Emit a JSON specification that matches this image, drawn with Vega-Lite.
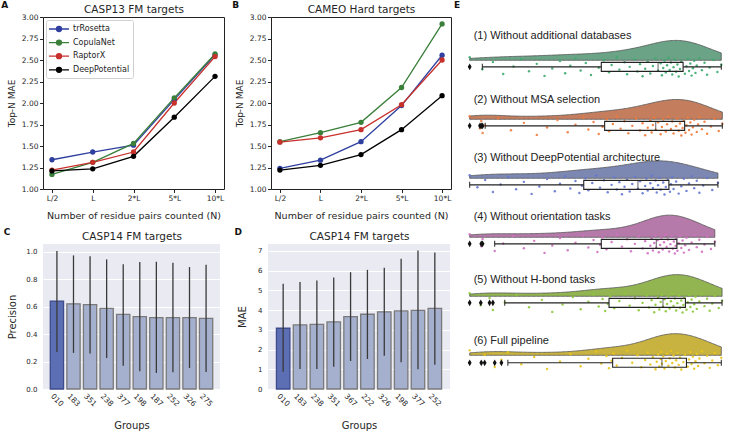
{
  "$schema": "https://vega.github.io/schema/vega-lite/v6.json",
  "background": "white",
  "padding": {"left": 0, "top": 0, "right": 0, "bottom": 0},
  "config": {
    "font": "DejaVu Sans",
    "view": {"stroke": "#222222", "strokeWidth": 1},
    "axis": {"labelColor": "#262626", "titleColor": "#262626", "titleFontWeight": "normal", "tickColor": "#262626", "domainColor": "#262626", "labelFont": "DejaVu Sans", "titleFont": "DejaVu Sans", "labelOverlap": false},
    "title": {"font": "DejaVu Sans", "fontWeight": "bold", "fontSize": 9, "color": "#111111", "anchor": "start", "frame": "bounds", "baseline": "alphabetic"}
  },
  "datasets": {
    "lines": [
      {"panel": "A", "method": "trRosetta", "n": "L/2", "mae": 1.34},
      {"panel": "A", "method": "trRosetta", "n": "L", "mae": 1.43},
      {"panel": "A", "method": "trRosetta", "n": "2*L", "mae": 1.51},
      {"panel": "A", "method": "trRosetta", "n": "5*L", "mae": 2.04},
      {"panel": "A", "method": "trRosetta", "n": "10*L", "mae": 2.56},
      {"panel": "A", "method": "CopulaNet", "n": "L/2", "mae": 1.17},
      {"panel": "A", "method": "CopulaNet", "n": "L", "mae": 1.31},
      {"panel": "A", "method": "CopulaNet", "n": "2*L", "mae": 1.53},
      {"panel": "A", "method": "CopulaNet", "n": "5*L", "mae": 2.06},
      {"panel": "A", "method": "CopulaNet", "n": "10*L", "mae": 2.57},
      {"panel": "A", "method": "RaptorX", "n": "L/2", "mae": 1.22},
      {"panel": "A", "method": "RaptorX", "n": "L", "mae": 1.31},
      {"panel": "A", "method": "RaptorX", "n": "2*L", "mae": 1.43},
      {"panel": "A", "method": "RaptorX", "n": "5*L", "mae": 2.0},
      {"panel": "A", "method": "RaptorX", "n": "10*L", "mae": 2.54},
      {"panel": "A", "method": "DeepPotential", "n": "L/2", "mae": 1.21},
      {"panel": "A", "method": "DeepPotential", "n": "L", "mae": 1.235},
      {"panel": "A", "method": "DeepPotential", "n": "2*L", "mae": 1.38},
      {"panel": "A", "method": "DeepPotential", "n": "5*L", "mae": 1.835},
      {"panel": "A", "method": "DeepPotential", "n": "10*L", "mae": 2.31},
      {"panel": "B", "method": "trRosetta", "n": "L/2", "mae": 1.24},
      {"panel": "B", "method": "trRosetta", "n": "L", "mae": 1.335},
      {"panel": "B", "method": "trRosetta", "n": "2*L", "mae": 1.55},
      {"panel": "B", "method": "trRosetta", "n": "5*L", "mae": 1.97},
      {"panel": "B", "method": "trRosetta", "n": "10*L", "mae": 2.555},
      {"panel": "B", "method": "CopulaNet", "n": "L/2", "mae": 1.55},
      {"panel": "B", "method": "CopulaNet", "n": "L", "mae": 1.655},
      {"panel": "B", "method": "CopulaNet", "n": "2*L", "mae": 1.775},
      {"panel": "B", "method": "CopulaNet", "n": "5*L", "mae": 2.18},
      {"panel": "B", "method": "CopulaNet", "n": "10*L", "mae": 2.92},
      {"panel": "B", "method": "RaptorX", "n": "L/2", "mae": 1.545},
      {"panel": "B", "method": "RaptorX", "n": "L", "mae": 1.595},
      {"panel": "B", "method": "RaptorX", "n": "2*L", "mae": 1.69},
      {"panel": "B", "method": "RaptorX", "n": "5*L", "mae": 1.98},
      {"panel": "B", "method": "RaptorX", "n": "10*L", "mae": 2.5},
      {"panel": "B", "method": "DeepPotential", "n": "L/2", "mae": 1.22},
      {"panel": "B", "method": "DeepPotential", "n": "L", "mae": 1.275},
      {"panel": "B", "method": "DeepPotential", "n": "2*L", "mae": 1.4},
      {"panel": "B", "method": "DeepPotential", "n": "5*L", "mae": 1.69},
      {"panel": "B", "method": "DeepPotential", "n": "10*L", "mae": 2.085}
    ],
    "bars": [
      {"panel": "C", "group": "010", "v": 0.64, "lo": 0.27, "hi": 1.005},
      {"panel": "C", "group": "183", "v": 0.62, "lo": 0.263, "hi": 0.973},
      {"panel": "C", "group": "351", "v": 0.615, "lo": 0.258, "hi": 0.966},
      {"panel": "C", "group": "238", "v": 0.587, "lo": 0.226, "hi": 0.944},
      {"panel": "C", "group": "377", "v": 0.543, "lo": 0.17, "hi": 0.908},
      {"panel": "C", "group": "198", "v": 0.527, "lo": 0.129, "hi": 0.925},
      {"panel": "C", "group": "187", "v": 0.52, "lo": 0.117, "hi": 0.927},
      {"panel": "C", "group": "252", "v": 0.52, "lo": 0.122, "hi": 0.92},
      {"panel": "C", "group": "326", "v": 0.52, "lo": 0.153, "hi": 0.888},
      {"panel": "C", "group": "275", "v": 0.515, "lo": 0.124, "hi": 0.905},
      {"panel": "D", "group": "010", "v": 3.08, "lo": 0.88, "hi": 5.33},
      {"panel": "D", "group": "183", "v": 3.25, "lo": 1.01, "hi": 5.43},
      {"panel": "D", "group": "238", "v": 3.28, "lo": 1.01, "hi": 5.5},
      {"panel": "D", "group": "351", "v": 3.4, "lo": 1.13, "hi": 5.65},
      {"panel": "D", "group": "367", "v": 3.67, "lo": 1.42, "hi": 5.92},
      {"panel": "D", "group": "222", "v": 3.79, "lo": 1.52, "hi": 6.04},
      {"panel": "D", "group": "326", "v": 3.91, "lo": 1.69, "hi": 6.15},
      {"panel": "D", "group": "198", "v": 3.96, "lo": 1.35, "hi": 6.6},
      {"panel": "D", "group": "377", "v": 3.99, "lo": 1.0, "hi": 7.02},
      {"panel": "D", "group": "252", "v": 4.09, "lo": 1.23, "hi": 6.92}
    ],
    "labels": [
      {"c": 1, "label": "(1) Without additional databases"},
      {"c": 2, "label": "(2) Without MSA selection"},
      {"c": 3, "label": "(3) Without DeepPotential architecture"},
      {"c": 4, "label": "(4) Without orientation tasks"},
      {"c": 5, "label": "(5) Without H-bond tasks"},
      {"c": 6, "label": "(6) Full pipeline"}
    ],
    "rain": [
      {"c":1,"p":0.0},{"c":1,"p":0.57},{"c":1,"p":0.77},{"c":1,"p":0.89},{"c":1,"p":0.41},{"c":1,"p":0.72},{"c":1,"p":0.845},{"c":1,"p":0.2},{"c":1,"p":0.64},{"c":1,"p":0.795},
      {"c":1,"p":0.945},{"c":1,"p":0.52},{"c":1,"p":0.755},{"c":1,"p":0.87},{"c":1,"p":0.35},{"c":1,"p":0.69},{"c":1,"p":0.82},{"c":1,"p":0.09},{"c":1,"p":0.6},{"c":1,"p":0.78},
      {"c":1,"p":0.91},{"c":1,"p":0.45},{"c":1,"p":0.74},{"c":1,"p":0.855},{"c":1,"p":0.26},{"c":1,"p":0.66},{"c":1,"p":0.805},{"c":1,"p":0.975},{"c":1,"p":0.55},{"c":1,"p":0.765},
      {"c":1,"p":0.88},{"c":1,"p":0.39},{"c":1,"p":0.71},{"c":1,"p":0.84},{"c":1,"p":0.17},{"c":1,"p":0.62},{"c":1,"p":0.79},{"c":1,"p":0.93},{"c":1,"p":0.5},{"c":1,"p":0.75},
      {"c":1,"p":0.865},{"c":1,"p":0.32},{"c":1,"p":0.68},{"c":1,"p":0.815},{"c":1,"p":0.049},{"c":1,"p":0.58},{"c":1,"p":0.775},{"c":1,"p":0.9},{"c":1,"p":0.43},{"c":1,"p":0.73},
      {"c":1,"p":0.85},{"c":1,"p":0.23},{"c":1,"p":0.65},{"c":1,"p":0.8},{"c":1,"p":0.96},{"c":1,"p":0.54},{"c":1,"p":0.76},{"c":1,"p":0.875},{"c":1,"p":0.37},{"c":1,"p":0.7},
      {"c":1,"p":0.834},{"c":1,"p":0.13},{"c":1,"p":0.61},{"c":1,"p":0.785},{"c":1,"p":0.92},{"c":1,"p":0.47},{"c":1,"p":0.745},{"c":1,"p":0.86},{"c":1,"p":0.29},{"c":1,"p":0.67},
      {"c":1,"p":0.81},
      {"c":2,"p":0.0},{"c":2,"p":0.57},{"c":2,"p":0.77},{"c":2,"p":0.89},{"c":2,"p":0.44},{"c":2,"p":0.715},{"c":2,"p":0.845},{"c":2,"p":0.11},{"c":2,"p":0.645},{"c":2,"p":0.805},
      {"c":2,"p":0.95},{"c":2,"p":0.531},{"c":2,"p":0.75},{"c":2,"p":0.87},{"c":2,"p":0.34},{"c":2,"p":0.7},{"c":2,"p":0.83},{"c":2,"p":0.045},{"c":2,"p":0.6},{"c":2,"p":0.785},
      {"c":2,"p":0.91},{"c":2,"p":0.48},{"c":2,"p":0.73},{"c":2,"p":0.855},{"c":2,"p":0.21},{"c":2,"p":0.67},{"c":2,"p":0.815},{"c":2,"p":0.979},{"c":2,"p":0.555},{"c":2,"p":0.765},
      {"c":2,"p":0.885},{"c":2,"p":0.41},{"c":2,"p":0.71},{"c":2,"p":0.84},{"c":2,"p":0.06},{"c":2,"p":0.63},{"c":2,"p":0.8},{"c":2,"p":0.935},{"c":2,"p":0.515},{"c":2,"p":0.745},
      {"c":2,"p":0.865},{"c":2,"p":0.3},{"c":2,"p":0.69},{"c":2,"p":0.825},{"c":2,"p":0.04},{"c":2,"p":0.585},{"c":2,"p":0.78},{"c":2,"p":0.9},{"c":2,"p":0.46},{"c":2,"p":0.721},
      {"c":2,"p":0.85},{"c":2,"p":0.16},{"c":2,"p":0.66},{"c":2,"p":0.81},{"c":2,"p":0.965},{"c":2,"p":0.54},{"c":2,"p":0.76},{"c":2,"p":0.88},{"c":2,"p":0.38},{"c":2,"p":0.705},
      {"c":2,"p":0.836},{"c":2,"p":0.05},{"c":2,"p":0.615},{"c":2,"p":0.79},{"c":2,"p":0.92},{"c":2,"p":0.5},{"c":2,"p":0.74},{"c":2,"p":0.86},{"c":2,"p":0.26},{"c":2,"p":0.68},
      {"c":2,"p":0.82},
      {"c":3,"p":0.0},{"c":3,"p":0.49},{"c":3,"p":0.705},{"c":3,"p":0.86},{"c":3,"p":0.37},{"c":3,"p":0.64},{"c":3,"p":0.785},{"c":3,"p":0.15},{"c":3,"p":0.56},{"c":3,"p":0.735},
      {"c":3,"p":0.92},{"c":3,"p":0.449},{"c":3,"p":0.685},{"c":3,"p":0.83},{"c":3,"p":0.3},{"c":3,"p":0.61},{"c":3,"p":0.768},{"c":3,"p":0.06},{"c":3,"p":0.52},{"c":3,"p":0.72},
      {"c":3,"p":0.88},{"c":3,"p":0.41},{"c":3,"p":0.66},{"c":3,"p":0.8},{"c":3,"p":0.21},{"c":3,"p":0.58},{"c":3,"p":0.75},{"c":3,"p":0.962},{"c":3,"p":0.475},{"c":3,"p":0.7},
      {"c":3,"p":0.85},{"c":3,"p":0.35},{"c":3,"p":0.63},{"c":3,"p":0.78},{"c":3,"p":0.12},{"c":3,"p":0.55},{"c":3,"p":0.73},{"c":3,"p":0.905},{"c":3,"p":0.435},{"c":3,"p":0.68},
      {"c":3,"p":0.82},{"c":3,"p":0.27},{"c":3,"p":0.6},{"c":3,"p":0.76},{"c":3,"p":0.03},{"c":3,"p":0.505},{"c":3,"p":0.71},{"c":3,"p":0.87},{"c":3,"p":0.39},{"c":3,"p":0.652},
      {"c":3,"p":0.79},{"c":3,"p":0.18},{"c":3,"p":0.57},{"c":3,"p":0.74},{"c":3,"p":0.94},{"c":3,"p":0.46},{"c":3,"p":0.69},{"c":3,"p":0.84},{"c":3,"p":0.33},{"c":3,"p":0.62},
      {"c":3,"p":0.776},{"c":3,"p":0.09},{"c":3,"p":0.535},{"c":3,"p":0.725},{"c":3,"p":0.89},{"c":3,"p":0.425},{"c":3,"p":0.67},{"c":3,"p":0.81},{"c":3,"p":0.24},{"c":3,"p":0.59},
      {"c":3,"p":0.755},
      {"c":4,"p":0.0},{"c":4,"p":0.57},{"c":4,"p":0.758},{"c":4,"p":0.87},{"c":4,"p":0.44},{"c":4,"p":0.72},{"c":4,"p":0.815},{"c":4,"p":0.17},{"c":4,"p":0.655},{"c":4,"p":0.783},
      {"c":4,"p":0.92},{"c":4,"p":0.515},{"c":4,"p":0.743},{"c":4,"p":0.84},{"c":4,"p":0.35},{"c":4,"p":0.705},{"c":4,"p":0.801},{"c":4,"p":0.05},{"c":4,"p":0.61},{"c":4,"p":0.768},
      {"c":4,"p":0.89},{"c":4,"p":0.48},{"c":4,"p":0.728},{"c":4,"p":0.825},{"c":4,"p":0.25},{"c":4,"p":0.68},{"c":4,"p":0.791},{"c":4,"p":0.95},{"c":4,"p":0.55},{"c":4,"p":0.753},
      {"c":4,"p":0.86},{"c":4,"p":0.41},{"c":4,"p":0.715},{"c":4,"p":0.81},{"c":4,"p":0.13},{"c":4,"p":0.64},{"c":4,"p":0.778},{"c":4,"p":0.91},{"c":4,"p":0.505},{"c":4,"p":0.738},
      {"c":4,"p":0.835},{"c":4,"p":0.32},{"c":4,"p":0.7},{"c":4,"p":0.798},{"c":4,"p":0.045},{"c":4,"p":0.59},{"c":4,"p":0.763},{"c":4,"p":0.88},{"c":4,"p":0.46},{"c":4,"p":0.723},
      {"c":4,"p":0.82},{"c":4,"p":0.21},{"c":4,"p":0.67},{"c":4,"p":0.787},{"c":4,"p":0.935},{"c":4,"p":0.53},{"c":4,"p":0.748},{"c":4,"p":0.85},{"c":4,"p":0.38},{"c":4,"p":0.71},
      {"c":4,"p":0.805},{"c":4,"p":0.097},{"c":4,"p":0.625},{"c":4,"p":0.773},{"c":4,"p":0.9},{"c":4,"p":0.495},{"c":4,"p":0.733},{"c":4,"p":0.83},{"c":4,"p":0.29},{"c":4,"p":0.69},
      {"c":4,"p":0.795},
      {"c":5,"p":0.0},{"c":5,"p":0.6},{"c":5,"p":0.785},{"c":5,"p":0.9},{"c":5,"p":0.48},{"c":5,"p":0.745},{"c":5,"p":0.85},{"c":5,"p":0.18},{"c":5,"p":0.685},{"c":5,"p":0.81},
      {"c":5,"p":0.95},{"c":5,"p":0.545},{"c":5,"p":0.77},{"c":5,"p":0.875},{"c":5,"p":0.4},{"c":5,"p":0.73},{"c":5,"p":0.832},{"c":5,"p":0.077},{"c":5,"p":0.64},{"c":5,"p":0.795},
      {"c":5,"p":0.92},{"c":5,"p":0.515},{"c":5,"p":0.755},{"c":5,"p":0.86},{"c":5,"p":0.28},{"c":5,"p":0.705},{"c":5,"p":0.82},{"c":5,"p":0.978},{"c":5,"p":0.58},{"c":5,"p":0.78},
      {"c":5,"p":0.89},{"c":5,"p":0.46},{"c":5,"p":0.74},{"c":5,"p":0.845},{"c":5,"p":0.136},{"c":5,"p":0.67},{"c":5,"p":0.805},{"c":5,"p":0.94},{"c":5,"p":0.535},{"c":5,"p":0.765},
      {"c":5,"p":0.87},{"c":5,"p":0.36},{"c":5,"p":0.72},{"c":5,"p":0.828},{"c":5,"p":0.043},{"c":5,"p":0.62},{"c":5,"p":0.79},{"c":5,"p":0.91},{"c":5,"p":0.5},{"c":5,"p":0.749},
      {"c":5,"p":0.855},{"c":5,"p":0.23},{"c":5,"p":0.695},{"c":5,"p":0.815},{"c":5,"p":0.965},{"c":5,"p":0.56},{"c":5,"p":0.775},{"c":5,"p":0.88},{"c":5,"p":0.43},{"c":5,"p":0.735},
      {"c":5,"p":0.84},{"c":5,"p":0.09},{"c":5,"p":0.655},{"c":5,"p":0.8},{"c":5,"p":0.93},{"c":5,"p":0.525},{"c":5,"p":0.76},{"c":5,"p":0.865},{"c":5,"p":0.32},{"c":5,"p":0.715},
      {"c":5,"p":0.825},
      {"c":6,"p":0.0},{"c":6,"p":0.61},{"c":6,"p":0.78},{"c":6,"p":0.9},{"c":6,"p":0.49},{"c":6,"p":0.742},{"c":6,"p":0.855},{"c":6,"p":0.148},{"c":6,"p":0.69},{"c":6,"p":0.805},
      {"c":6,"p":0.95},{"c":6,"p":0.558},{"c":6,"p":0.765},{"c":6,"p":0.88},{"c":6,"p":0.39},{"c":6,"p":0.73},{"c":6,"p":0.835},{"c":6,"p":0.058},{"c":6,"p":0.65},{"c":6,"p":0.79},
      {"c":6,"p":0.92},{"c":6,"p":0.53},{"c":6,"p":0.75},{"c":6,"p":0.865},{"c":6,"p":0.25},{"c":6,"p":0.71},{"c":6,"p":0.815},{"c":6,"p":0.975},{"c":6,"p":0.59},{"c":6,"p":0.775},
      {"c":6,"p":0.89},{"c":6,"p":0.46},{"c":6,"p":0.74},{"c":6,"p":0.85},{"c":6,"p":0.123},{"c":6,"p":0.68},{"c":6,"p":0.8},{"c":6,"p":0.94},{"c":6,"p":0.55},{"c":6,"p":0.76},
      {"c":6,"p":0.875},{"c":6,"p":0.35},{"c":6,"p":0.725},{"c":6,"p":0.828},{"c":6,"p":0.045},{"c":6,"p":0.63},{"c":6,"p":0.785},{"c":6,"p":0.91},{"c":6,"p":0.51},{"c":6,"p":0.745},
      {"c":6,"p":0.86},{"c":6,"p":0.2},{"c":6,"p":0.7},{"c":6,"p":0.81},{"c":6,"p":0.962},{"c":6,"p":0.57},{"c":6,"p":0.77},{"c":6,"p":0.885},{"c":6,"p":0.43},{"c":6,"p":0.735},
      {"c":6,"p":0.845},{"c":6,"p":0.097},{"c":6,"p":0.665},{"c":6,"p":0.795},{"c":6,"p":0.93},{"c":6,"p":0.54},{"c":6,"p":0.755},{"c":6,"p":0.87},{"c":6,"p":0.3},{"c":6,"p":0.72},
      {"c":6,"p":0.82}
    ]
  },
  "concat": [
    {
      "vconcat": [
        {
          "hconcat": [
            {
              "width": 181, "height": 172,
              "title": {"text": "A", "offset": -6, "dx": -6},
              "data": {"name": "lines"},
              "transform": [{"filter": "datum.panel == 'A'"}],
              "encoding": {
                "y": {"field": "mae", "type": "quantitative", "scale": {"domain": [1, 3], "nice": false, "zero": false},
                  "axis": {"title": "Top-N MAE", "values": [1, 1.25, 1.5, 1.75, 2, 2.25, 2.5, 2.75, 3], "format": ".2f", "labelOverlap": false, "grid": false, "domain": false, "tickSize": 3.5, "labelFontSize": 7.5, "labelPadding": 1.5, "titleFontSize": 9, "titlePadding": 5}},
                "color": {"field": "method", "type": "nominal",
                  "scale": {"domain": ["trRosetta", "CopulaNet", "RaptorX", "DeepPotential"], "range": ["#2F3F9F", "#3A7F3A", "#C8302C", "#000000"]},
                  "legend": {"title": null, "orient": "top-left", "offset": 3, "padding": 3, "strokeColor": "#d0d0d0", "fillColor": "white", "cornerRadius": 2, "labelFontSize": 8, "labelColor": "#222222", "symbolType": "M-2,0L2,0M0.5,0A0.5,0.5,0,1,1,-0.5,0A0.5,0.5,0,1,1,0.5,0Z", "symbolSize": 100, "symbolStrokeWidth": 1.3, "symbolOffset": 4, "rowPadding": 1.6, "labelOffset": 8, "symbolOpacity": 1}}
              },
              "layer": [
                {
                  "mark": {"type": "line", "strokeWidth": 1.3},
                  "encoding": {
                    "x": {"field": "n", "type": "ordinal", "sort": ["L/2", "L", "2*L", "5*L", "10*L"], "scale": {"type": "point", "padding": 0.22},
                      "axis": {"orient": "bottom", "title": "Number of residue pairs counted (N)", "labelAngle": 0, "labelOverlap": false, "tickSize": 3.5, "labelFontSize": 7.5, "labelPadding": 1.5, "titleFontSize": 9.5, "titlePadding": 9, "domain": false, "grid": false}},
                    "order": {"value": null}
                  }
                },
                {
                  "mark": {"type": "circle", "size": 28, "opacity": 1},
                  "encoding": {
                    "x": {"field": "n", "type": "ordinal", "sort": ["L/2", "L", "2*L", "5*L", "10*L"],
                      "axis": {"orient": "top", "title": "CASP13 FM targets", "labels": false, "ticks": false, "domain": false, "grid": false, "titleFontSize": 10.5, "titlePadding": 3}}
                  }
                }
              ],
              "resolve": {"axis": {"x": "independent"}}
            },
            {
              "width": 180, "height": 172,
              "title": {"text": "B", "offset": -6, "dx": -3},
              "data": {"name": "lines"},
              "transform": [{"filter": "datum.panel == 'B'"}],
              "encoding": {
                "y": {"field": "mae", "type": "quantitative", "scale": {"domain": [1, 3], "nice": false, "zero": false},
                  "axis": {"title": "Top-N MAE", "values": [1, 1.25, 1.5, 1.75, 2, 2.25, 2.5, 2.75, 3], "format": ".2f", "labelOverlap": false, "grid": false, "domain": false, "tickSize": 3.5, "labelFontSize": 7.5, "labelPadding": 1.5, "titleFontSize": 9, "titlePadding": 5}},
                "color": {"field": "method", "type": "nominal",
                  "scale": {"domain": ["trRosetta", "CopulaNet", "RaptorX", "DeepPotential"], "range": ["#2F3F9F", "#3A7F3A", "#C8302C", "#000000"]},
                  "legend": null}
              },
              "layer": [
                {
                  "mark": {"type": "line", "strokeWidth": 1.3},
                  "encoding": {
                    "x": {"field": "n", "type": "ordinal", "sort": ["L/2", "L", "2*L", "5*L", "10*L"], "scale": {"type": "point", "padding": 0.22},
                      "axis": {"orient": "bottom", "title": "Number of residue pairs counted (N)", "labelAngle": 0, "labelOverlap": false, "tickSize": 3.5, "labelFontSize": 7.5, "labelPadding": 1.5, "titleFontSize": 9.5, "titlePadding": 9, "domain": false, "grid": false}},
                    "order": {"value": null}
                  }
                },
                {
                  "mark": {"type": "circle", "size": 28, "opacity": 1},
                  "encoding": {
                    "x": {"field": "n", "type": "ordinal", "sort": ["L/2", "L", "2*L", "5*L", "10*L"],
                      "axis": {"orient": "top", "title": "CAMEO Hard targets", "labels": false, "ticks": false, "domain": false, "grid": false, "titleFontSize": 10.5, "titlePadding": 3}}
                  }
                }
              ],
              "resolve": {"axis": {"x": "independent"}}
            }
          ],
          "spacing": 6,
          "resolve": {"scale": {"color": "independent"}, "legend": {"color": "independent"}}
        },
        {
          "hconcat": [
            {
              "width": 177, "height": 145,
              "title": {"text": "C", "offset": -6, "dx": -4},
              "view": {"fill": "#EAEAF2", "stroke": null},
              "data": {"name": "bars"},
              "transform": [{"filter": "datum.panel == 'C'"}],
              "layer": [
                {
                  "mark": {"type": "bar", "strokeWidth": 1.3},
                  "encoding": {
                    "x": {"field": "group", "type": "nominal", "sort": null, "scale": {"paddingInner": 0.2, "paddingOuter": 0.44},
                      "axis": {"orient": "bottom", "title": "Groups", "labelAngle": 45, "labelAlign": "center", "labelBaseline": "middle", "labelOverlap": false, "ticks": false, "tickSize": 0, "domain": false, "grid": false, "labelPadding": 11, "labelFontSize": 7.5, "titleFontSize": 10, "titlePadding": 13}},
                    "y": {"field": "v", "type": "quantitative", "scale": {"domain": [0, 1.056], "nice": false},
                      "axis": {"title": "Precision", "values": [0, 0.2, 0.4, 0.6, 0.8, 1.0], "format": ".1f", "labelOverlap": false, "ticks": false, "tickSize": 0, "domain": false, "grid": true, "gridColor": "white", "gridWidth": 1, "labelPadding": 6, "labelFontSize": 7, "titleFontSize": 10, "titlePadding": 8}},
                    "color": {"condition": {"test": "datum.group === '010'", "value": "#5C6EB4"}, "value": "#A5B0CF"},
                    "stroke": {"condition": {"test": "datum.group === '010'", "value": "#3E4C8C"}, "value": "#7A7A7A"}
                  }
                },
                {
                  "mark": {"type": "rule", "color": "#3A3A3A", "strokeWidth": 1.3},
                  "encoding": {
                    "x": {"field": "group", "type": "nominal", "sort": null,
                      "axis": {"orient": "top", "title": "CASP14 FM targets", "labels": false, "ticks": false, "domain": false, "grid": false, "titleFontSize": 10.5, "titlePadding": 3}},
                    "y": {"field": "lo", "type": "quantitative",
                      "axis": {"title": "Precision", "values": [0, 0.2, 0.4, 0.6, 0.8, 1.0], "format": ".1f", "labelOverlap": false, "ticks": false, "tickSize": 0, "domain": false, "grid": true, "gridColor": "white", "gridWidth": 1, "labelPadding": 6, "labelFontSize": 7, "titleFontSize": 10, "titlePadding": 8}},
                    "y2": {"field": "hi"}
                  }
                }
              ],
              "resolve": {"axis": {"x": "independent"}}
            },
            {
              "width": 182, "height": 145,
              "title": {"text": "D", "offset": -6, "dx": -3},
              "view": {"fill": "#EAEAF2", "stroke": null},
              "data": {"name": "bars"},
              "transform": [{"filter": "datum.panel == 'D'"}],
              "layer": [
                {
                  "mark": {"type": "bar", "strokeWidth": 1.3},
                  "encoding": {
                    "x": {"field": "group", "type": "nominal", "sort": null, "scale": {"paddingInner": 0.2, "paddingOuter": 0.5},
                      "axis": {"orient": "bottom", "title": "Groups", "labelAngle": 45, "labelAlign": "center", "labelBaseline": "middle", "labelOverlap": false, "ticks": false, "tickSize": 0, "domain": false, "grid": false, "labelPadding": 11, "labelFontSize": 7.5, "titleFontSize": 10, "titlePadding": 13}},
                    "y": {"field": "v", "type": "quantitative", "scale": {"domain": [0, 7.35], "nice": false},
                      "axis": {"title": "MAE", "values": [0, 1, 2, 3, 4, 5, 6, 7], "format": "d", "labelOverlap": false, "ticks": false, "tickSize": 0, "domain": false, "grid": true, "gridColor": "white", "gridWidth": 1, "labelPadding": 6, "labelFontSize": 7, "titleFontSize": 10, "titlePadding": 10}},
                    "color": {"condition": {"test": "datum.group === '010'", "value": "#5C6EB4"}, "value": "#A5B0CF"},
                    "stroke": {"condition": {"test": "datum.group === '010'", "value": "#3E4C8C"}, "value": "#7A7A7A"}
                  }
                },
                {
                  "mark": {"type": "rule", "color": "#3A3A3A", "strokeWidth": 1.3},
                  "encoding": {
                    "x": {"field": "group", "type": "nominal", "sort": null,
                      "axis": {"orient": "top", "title": "CASP14 FM targets", "labels": false, "ticks": false, "domain": false, "grid": false, "titleFontSize": 10.5, "titlePadding": 3}},
                    "y": {"field": "lo", "type": "quantitative",
                      "axis": {"title": "MAE", "values": [0, 1, 2, 3, 4, 5, 6, 7], "format": "d", "labelOverlap": false, "ticks": false, "tickSize": 0, "domain": false, "grid": true, "gridColor": "white", "gridWidth": 1, "labelPadding": 6, "labelFontSize": 7, "titleFontSize": 10, "titlePadding": 10}},
                    "y2": {"field": "hi"}
                  }
                }
              ],
              "resolve": {"axis": {"x": "independent"}}
            }
          ],
          "spacing": 14
        }
      ],
      "spacing": 7,
      "resolve": {"scale": {"color": "independent"}, "legend": {"color": "independent"}}
    },
    {
      "title": {"text": "E", "offset": 7, "dx": -2},
      "vconcat": [
        {
          "width": 280, "height": 6, "view": {"stroke": null},
          "data": {"values": []},
          "mark": "rule",
          "encoding": {}
        },
        {
          "width": 280, "height": 58.3, "view": {"stroke": null},
          "data": {"name": "rain"}, "transform": [{"filter": "datum.c == 1"}],
          "layer": [
            {"layer": [
              {"transform": [{"density": "p", "bandwidth": 0.08}],
               "mark": {"type": "area", "fill": "#6AA385", "stroke": "#555555", "strokeWidth": 0.8},
               "encoding": {
                 "x": {"field": "value", "type": "quantitative", "scale": {"domain": [-0.053, 1.032], "nice": false, "zero": false},
                   "axis": {"values": [0, 0.2, 0.4, 0.6, 0.8, 1.0], "grid": true, "gridColor": "#d0d0d0", "gridWidth": 1, "labels": false, "ticks": false, "domain": false, "title": null}},
                 "y": {"field": "density", "type": "quantitative", "scale": {"domain": [-2.21, 3.93], "nice": false, "zero": false}, "axis": null},
                 "y2": {"datum": 0}}},
              {"data": {"name": "labels"}, "transform": [{"filter": "datum.c == 1"}],
               "mark": {"type": "text", "align": "left", "baseline": "middle", "dx": 4, "font": "Liberation Sans", "fontSize": 11, "color": "#222222"},
               "encoding": {"x": {"datum": 0, "type": "quantitative"}, "y": {"datum": 2.56, "type": "quantitative"}, "text": {"field": "label", "type": "nominal"}}}
            ]},
            {"layer": [
              {"transform": [{"window": [{"op": "row_number", "as": "t"}]}],
               "mark": {"type": "circle", "size": 6, "opacity": 0.9, "color": "#3DAA6E"},
               "encoding": {
                 "x": {"field": "p", "type": "quantitative", "axis": null},
                 "y": {"field": "c", "type": "nominal", "scale": {"paddingInner": 0, "paddingOuter": 1.742, "align": 0.8786}, "axis": null},
                 "yOffset": {"field": "t", "type": "nominal"}}},
              {"mark": {"type": "boxplot", "extent": 1.5, "size": 9,
                 "box": {"fill": "white", "fillOpacity": 0, "stroke": "#222222", "strokeWidth": 1.1},
                 "median": {"color": "#222222", "strokeWidth": 1.2},
                 "rule": {"color": "#222222", "strokeWidth": 1.1},
                 "ticks": {"color": "#222222", "size": 6},
                 "outliers": {"shape": "M0,-1L0.57,0L0,1L-0.57,0Z", "size": 45, "color": "#111111", "filled": true, "opacity": 1}},
               "encoding": {"x": {"field": "p", "type": "quantitative", "axis": null}, "y": {"field": "c", "type": "nominal", "axis": null}}}
            ]}
          ],
          "resolve": {"scale": {"y": "independent"}}
        },
        {
          "width": 280, "height": 58.3, "view": {"stroke": null},
          "data": {"name": "rain"}, "transform": [{"filter": "datum.c == 2"}],
          "layer": [
            {"layer": [
              {"transform": [{"density": "p", "bandwidth": 0.08}],
               "mark": {"type": "area", "fill": "#C47E5E", "stroke": "#555555", "strokeWidth": 0.8},
               "encoding": {
                 "x": {"field": "value", "type": "quantitative", "scale": {"domain": [-0.053, 1.032], "nice": false, "zero": false},
                   "axis": {"values": [0, 0.2, 0.4, 0.6, 0.8, 1.0], "grid": true, "gridColor": "#d0d0d0", "gridWidth": 1, "labels": false, "ticks": false, "domain": false, "title": null}},
                 "y": {"field": "density", "type": "quantitative", "scale": {"domain": [-2.21, 3.93], "nice": false, "zero": false}, "axis": null},
                 "y2": {"datum": 0}}},
              {"data": {"name": "labels"}, "transform": [{"filter": "datum.c == 2"}],
               "mark": {"type": "text", "align": "left", "baseline": "middle", "dx": 4, "font": "Liberation Sans", "fontSize": 11, "color": "#222222"},
               "encoding": {"x": {"datum": 0, "type": "quantitative"}, "y": {"datum": 2.04, "type": "quantitative"}, "text": {"field": "label", "type": "nominal"}}}
            ]},
            {"layer": [
              {"transform": [{"window": [{"op": "row_number", "as": "t"}]}],
               "mark": {"type": "circle", "size": 6, "opacity": 0.9, "color": "#F07A3A"},
               "encoding": {
                 "x": {"field": "p", "type": "quantitative", "axis": null},
                 "y": {"field": "c", "type": "nominal", "scale": {"paddingInner": 0, "paddingOuter": 1.742, "align": 0.8786}, "axis": null},
                 "yOffset": {"field": "t", "type": "nominal"}}},
              {"mark": {"type": "boxplot", "extent": 1.5, "size": 9,
                 "box": {"fill": "white", "fillOpacity": 0, "stroke": "#222222", "strokeWidth": 1.1},
                 "median": {"color": "#222222", "strokeWidth": 1.2},
                 "rule": {"color": "#222222", "strokeWidth": 1.1},
                 "ticks": {"color": "#222222", "size": 6},
                 "outliers": {"shape": "M0,-1L0.57,0L0,1L-0.57,0Z", "size": 45, "color": "#111111", "filled": true, "opacity": 1}},
               "encoding": {"x": {"field": "p", "type": "quantitative", "axis": null}, "y": {"field": "c", "type": "nominal", "axis": null}}}
            ]}
          ],
          "resolve": {"scale": {"y": "independent"}}
        },
        {
          "width": 280, "height": 58.3, "view": {"stroke": null},
          "data": {"name": "rain"}, "transform": [{"filter": "datum.c == 3"}],
          "layer": [
            {"layer": [
              {"transform": [{"density": "p", "bandwidth": 0.08}],
               "mark": {"type": "area", "fill": "#7D88B2", "stroke": "#555555", "strokeWidth": 0.8},
               "encoding": {
                 "x": {"field": "value", "type": "quantitative", "scale": {"domain": [-0.053, 1.032], "nice": false, "zero": false},
                   "axis": {"values": [0, 0.2, 0.4, 0.6, 0.8, 1.0], "grid": true, "gridColor": "#d0d0d0", "gridWidth": 1, "labels": false, "ticks": false, "domain": false, "title": null}},
                 "y": {"field": "density", "type": "quantitative", "scale": {"domain": [-2.21, 3.93], "nice": false, "zero": false}, "axis": null},
                 "y2": {"datum": 0}}},
              {"data": {"name": "labels"}, "transform": [{"filter": "datum.c == 3"}],
               "mark": {"type": "text", "align": "left", "baseline": "middle", "dx": 4, "font": "Liberation Sans", "fontSize": 11, "color": "#222222"},
               "encoding": {"x": {"datum": 0, "type": "quantitative"}, "y": {"datum": 2.14, "type": "quantitative"}, "text": {"field": "label", "type": "nominal"}}}
            ]},
            {"layer": [
              {"transform": [{"window": [{"op": "row_number", "as": "t"}]}],
               "mark": {"type": "circle", "size": 6, "opacity": 0.9, "color": "#6477D0"},
               "encoding": {
                 "x": {"field": "p", "type": "quantitative", "axis": null},
                 "y": {"field": "c", "type": "nominal", "scale": {"paddingInner": 0, "paddingOuter": 1.742, "align": 0.8786}, "axis": null},
                 "yOffset": {"field": "t", "type": "nominal"}}},
              {"mark": {"type": "boxplot", "extent": 1.5, "size": 9,
                 "box": {"fill": "white", "fillOpacity": 0, "stroke": "#222222", "strokeWidth": 1.1},
                 "median": {"color": "#222222", "strokeWidth": 1.2},
                 "rule": {"color": "#222222", "strokeWidth": 1.1},
                 "ticks": {"color": "#222222", "size": 6},
                 "outliers": {"shape": "M0,-1L0.57,0L0,1L-0.57,0Z", "size": 45, "color": "#111111", "filled": true, "opacity": 1}},
               "encoding": {"x": {"field": "p", "type": "quantitative", "axis": null}, "y": {"field": "c", "type": "nominal", "axis": null}}}
            ]}
          ],
          "resolve": {"scale": {"y": "independent"}}
        },
        {
          "width": 280, "height": 58.3, "view": {"stroke": null},
          "data": {"name": "rain"}, "transform": [{"filter": "datum.c == 4"}],
          "layer": [
            {"layer": [
              {"transform": [{"density": "p", "bandwidth": 0.08}],
               "mark": {"type": "area", "fill": "#B57AAA", "stroke": "#555555", "strokeWidth": 0.8},
               "encoding": {
                 "x": {"field": "value", "type": "quantitative", "scale": {"domain": [-0.053, 1.032], "nice": false, "zero": false},
                   "axis": {"values": [0, 0.2, 0.4, 0.6, 0.8, 1.0], "grid": true, "gridColor": "#d0d0d0", "gridWidth": 1, "labels": false, "ticks": false, "domain": false, "title": null}},
                 "y": {"field": "density", "type": "quantitative", "scale": {"domain": [-2.21, 3.93], "nice": false, "zero": false}, "axis": null},
                 "y2": {"datum": 0}}},
              {"data": {"name": "labels"}, "transform": [{"filter": "datum.c == 4"}],
               "mark": {"type": "text", "align": "left", "baseline": "middle", "dx": 4, "font": "Liberation Sans", "fontSize": 11, "color": "#222222"},
               "encoding": {"x": {"datum": 0, "type": "quantitative"}, "y": {"datum": 2.14, "type": "quantitative"}, "text": {"field": "label", "type": "nominal"}}}
            ]},
            {"layer": [
              {"transform": [{"window": [{"op": "row_number", "as": "t"}]}],
               "mark": {"type": "circle", "size": 6, "opacity": 0.9, "color": "#D070C0"},
               "encoding": {
                 "x": {"field": "p", "type": "quantitative", "axis": null},
                 "y": {"field": "c", "type": "nominal", "scale": {"paddingInner": 0, "paddingOuter": 1.742, "align": 0.8786}, "axis": null},
                 "yOffset": {"field": "t", "type": "nominal"}}},
              {"mark": {"type": "boxplot", "extent": 1.5, "size": 9,
                 "box": {"fill": "white", "fillOpacity": 0, "stroke": "#222222", "strokeWidth": 1.1},
                 "median": {"color": "#222222", "strokeWidth": 1.2},
                 "rule": {"color": "#222222", "strokeWidth": 1.1},
                 "ticks": {"color": "#222222", "size": 6},
                 "outliers": {"shape": "M0,-1L0.57,0L0,1L-0.57,0Z", "size": 45, "color": "#111111", "filled": true, "opacity": 1}},
               "encoding": {"x": {"field": "p", "type": "quantitative", "axis": null}, "y": {"field": "c", "type": "nominal", "axis": null}}}
            ]}
          ],
          "resolve": {"scale": {"y": "independent"}}
        },
        {
          "width": 280, "height": 58.3, "view": {"stroke": null},
          "data": {"name": "rain"}, "transform": [{"filter": "datum.c == 5"}],
          "layer": [
            {"layer": [
              {"transform": [{"density": "p", "bandwidth": 0.08}],
               "mark": {"type": "area", "fill": "#92B552", "stroke": "#555555", "strokeWidth": 0.8},
               "encoding": {
                 "x": {"field": "value", "type": "quantitative", "scale": {"domain": [-0.053, 1.032], "nice": false, "zero": false},
                   "axis": {"values": [0, 0.2, 0.4, 0.6, 0.8, 1.0], "grid": true, "gridColor": "#d0d0d0", "gridWidth": 1, "labels": false, "ticks": false, "domain": false, "title": null}},
                 "y": {"field": "density", "type": "quantitative", "scale": {"domain": [-2.21, 3.93], "nice": false, "zero": false}, "axis": null},
                 "y2": {"datum": 0}}},
              {"data": {"name": "labels"}, "transform": [{"filter": "datum.c == 5"}],
               "mark": {"type": "text", "align": "left", "baseline": "middle", "dx": 4, "font": "Liberation Sans", "fontSize": 11, "color": "#222222"},
               "encoding": {"x": {"datum": 0, "type": "quantitative"}, "y": {"datum": 1.68, "type": "quantitative"}, "text": {"field": "label", "type": "nominal"}}}
            ]},
            {"layer": [
              {"transform": [{"window": [{"op": "row_number", "as": "t"}]}],
               "mark": {"type": "circle", "size": 6, "opacity": 0.9, "color": "#8CC83A"},
               "encoding": {
                 "x": {"field": "p", "type": "quantitative", "axis": null},
                 "y": {"field": "c", "type": "nominal", "scale": {"paddingInner": 0, "paddingOuter": 1.742, "align": 0.8786}, "axis": null},
                 "yOffset": {"field": "t", "type": "nominal"}}},
              {"mark": {"type": "boxplot", "extent": 1.5, "size": 9,
                 "box": {"fill": "white", "fillOpacity": 0, "stroke": "#222222", "strokeWidth": 1.1},
                 "median": {"color": "#222222", "strokeWidth": 1.2},
                 "rule": {"color": "#222222", "strokeWidth": 1.1},
                 "ticks": {"color": "#222222", "size": 6},
                 "outliers": {"shape": "M0,-1L0.57,0L0,1L-0.57,0Z", "size": 45, "color": "#111111", "filled": true, "opacity": 1}},
               "encoding": {"x": {"field": "p", "type": "quantitative", "axis": null}, "y": {"field": "c", "type": "nominal", "axis": null}}}
            ]}
          ],
          "resolve": {"scale": {"y": "independent"}}
        },
        {
          "width": 280, "height": 75.5, "view": {"stroke": null},
          "data": {"name": "rain"}, "transform": [{"filter": "datum.c == 6"}],
          "layer": [
            {"layer": [
              {"transform": [{"density": "p", "bandwidth": 0.08}],
               "mark": {"type": "area", "fill": "#C9B340", "stroke": "#555555", "strokeWidth": 0.8},
               "encoding": {
                 "x": {"field": "value", "type": "quantitative", "scale": {"domain": [-0.053, 1.032], "nice": false, "zero": false},
                   "axis": {"values": [0, 0.2, 0.4, 0.6, 0.8, 1.0], "format": ".1f", "labelFlush": false, "labelOverlap": false, "grid": true, "gridColor": "#d0d0d0", "gridWidth": 1, "ticks": false, "domain": true, "domainColor": "#c8c8c8", "labelFont": "Liberation Sans", "labelFontSize": 9.5, "labelPadding": 7, "labelColor": "#333333", "title": "Precision", "titleFont": "Liberation Sans", "titleFontSize": 11, "titlePadding": 9, "titleColor": "#222222"}},
                 "y": {"field": "density", "type": "quantitative", "scale": {"domain": [-4.02, 3.93], "nice": false, "zero": false}, "axis": null},
                 "y2": {"datum": 0}}},
              {"data": {"name": "labels"}, "transform": [{"filter": "datum.c == 6"}],
               "mark": {"type": "text", "align": "left", "baseline": "middle", "dx": 4, "font": "Liberation Sans", "fontSize": 11, "color": "#222222"},
               "encoding": {"x": {"datum": 0, "type": "quantitative"}, "y": {"datum": 1.51, "type": "quantitative"}, "text": {"field": "label", "type": "nominal"}}}
            ]},
            {"layer": [
              {"transform": [{"window": [{"op": "row_number", "as": "t"}]}],
               "mark": {"type": "circle", "size": 6, "opacity": 0.9, "color": "#E8C41A"},
               "encoding": {
                 "x": {"field": "p", "type": "quantitative", "axis": null},
                 "y": {"field": "c", "type": "nominal", "scale": {"paddingInner": 0, "paddingOuter": 2.404, "align": 0.64}, "axis": null},
                 "yOffset": {"field": "t", "type": "nominal"}}},
              {"mark": {"type": "boxplot", "extent": 1.5, "size": 9,
                 "box": {"fill": "white", "fillOpacity": 0, "stroke": "#222222", "strokeWidth": 1.1},
                 "median": {"color": "#222222", "strokeWidth": 1.2},
                 "rule": {"color": "#222222", "strokeWidth": 1.1},
                 "ticks": {"color": "#222222", "size": 6},
                 "outliers": {"shape": "M0,-1L0.57,0L0,1L-0.57,0Z", "size": 45, "color": "#111111", "filled": true, "opacity": 1}},
               "encoding": {"x": {"field": "p", "type": "quantitative", "axis": null}, "y": {"field": "c", "type": "nominal", "axis": null}}}
            ]}
          ],
          "resolve": {"scale": {"y": "independent"}}
        }
      ],
      "spacing": 0
    }
  ],
  "columns": 2,
  "align": "none",
  "spacing": 2,
  "resolve": {"scale": {"color": "independent"}, "legend": {"color": "independent"}}
}
